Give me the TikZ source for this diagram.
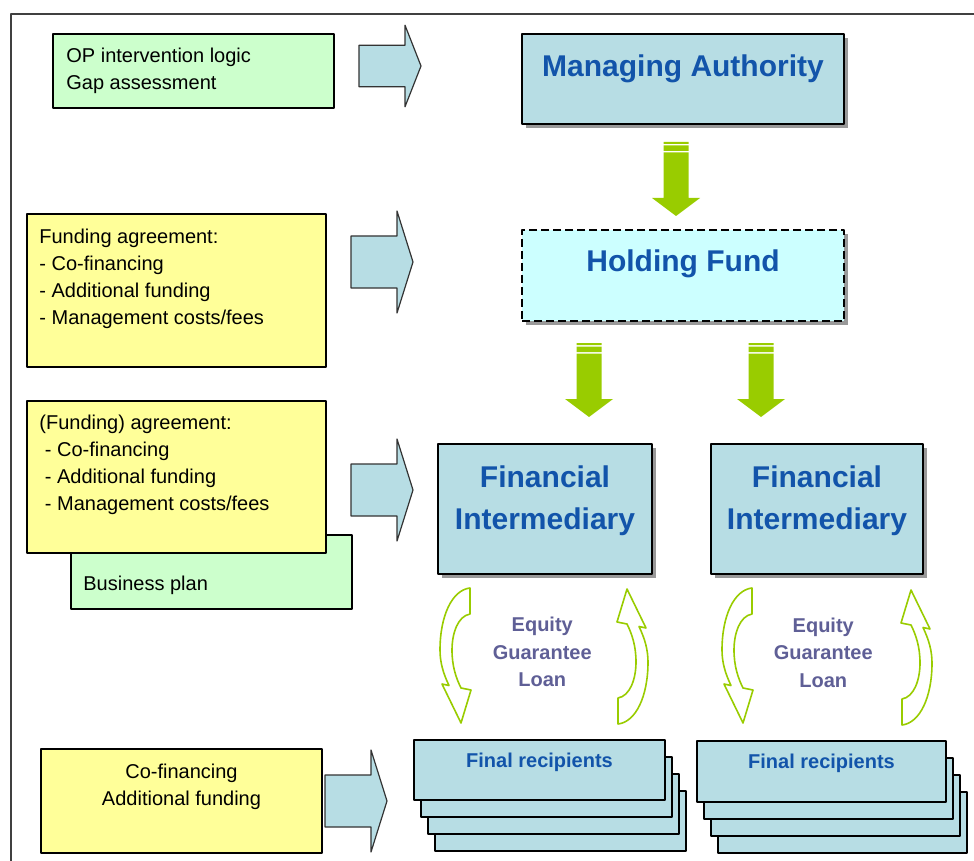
\documentclass[tikz,border=0pt]{standalone}
\usepackage{fontspec}
\setmainfont{Liberation Sans}
\usetikzlibrary{positioning,fit,calc,shadows}
\definecolor{boxblue}{RGB}{183,221,228}
\definecolor{holdcyan}{RGB}{204,255,255}
\definecolor{noteyellow}{RGB}{255,255,153}
\definecolor{notegreen}{RGB}{204,255,204}
\definecolor{titleblue}{RGB}{18,84,170}
\definecolor{flowgreen}{RGB}{153,204,0}
\definecolor{loanpurple}{RGB}{95,95,150}
\begin{document}
\begin{tikzpicture}[x=0.5pt,y=-0.5pt,line join=round]
	\tikzset{
		plainbox/.style={draw=black,line width=1pt,inner sep=0pt,fill=#1},
		shadowed/.style={drop shadow={shadow xshift=2pt,shadow yshift=-2pt,fill=black!50,opacity=.8}},
		mainbox/.style={plainbox=boxblue,shadowed},
		notetext/.style={font=\fontsize{10}{13.5}\selectfont,inner sep=0pt,align=left},
		bigtext/.style={font=\fontsize{15}{21}\selectfont\bfseries,text=titleblue,inner sep=0pt,align=center},
		smalltitle/.style={font=\fontsize{10}{13}\selectfont\bfseries,text=titleblue,inner sep=0pt},
		loantext/.style={font=\fontsize{10}{13.75}\selectfont\bfseries,text=loanpurple,inner sep=0pt,align=center},
		blockarrow/.pic={\draw[fill=boxblue,draw=black!80,line width=0.6pt] (0,-26) -- (46,-26) -- (46,-51) -- (62,0) -- (46,51) -- (46,26) -- (0,26) -- cycle;},
		greenarrow/.pic={\fill[flowgreen] (-12.5,0) rectangle (12.5,2) (-12.5,3.5) rectangle (12.5,9)
			(-12.5,10.5) -- (12.5,10.5) -- (12.5,56) -- (24,56) -- (0,74) -- (-24,56) -- (-12.5,56) -- cycle;},
		swirl/.pic={\draw[flowgreen,fill=white,line width=0.8pt] (30,0) -- (30,26) .. controls (18,28) and (12,45) .. (12,62)
			.. controls (12,78) and (16,90) .. (21,100) -- (31,102) -- (21,135) -- (2,96) -- (9,97.5)
			.. controls (3,85) and (0,74) .. (0,62) .. controls (0,28) and (12,2) .. (30,0) -- cycle;}
	}
	\useasboundingbox (0,0) rectangle (974,861);
	\draw[black!75,line width=1pt] (974,14) -- (11,14) -- (11,861);

	\node[plainbox=notegreen,fit={(53,34) (334,108)}] (op) {};
	\node[plainbox=noteyellow,fit={(27,214) (326,367)}] (fund) {};
	\node[plainbox=notegreen,fit={(71,535) (352,609)}] (bplan) {};
	\node[plainbox=noteyellow,fit={(27,401) (326,553)}] (fund2) {};
	\node[plainbox=noteyellow,fit={(41,749) (322,853)}] (cofin) {};
	\node[notetext,right=7pt of op.west] {OP intervention logic\\Gap assessment};
	\node[notetext,below right=8pt and 6.5pt of fund.north west] {Funding agreement:\\- Co-financing\\- Additional funding\\- Management costs/fees};
	\node[notetext,below right=7.5pt and 6.5pt of fund2.north west] {(Funding) agreement:\\~- Co-financing\\~- Additional funding\\~- Management costs/fees};
	\node[notetext,anchor=west] at ([xshift=6.5pt,yshift=-6.5pt]bplan.west) {Business plan};
	\node[notetext,align=center,below=8pt of cofin.north] {Co-financing\\Additional funding};

	\node[mainbox,fit={(522,34) (844,124)}] (ma) {};
	\node[plainbox=holdcyan,dash pattern=on 4pt off 2pt,shadowed,fit={(522,230) (844,321)}] (hf) {};
	\node[mainbox,fit={(438,444) (652,574)}] (fi1) {};
	\node[mainbox,fit={(711,444) (923,574)}] (fi2) {};
	\foreach \k in {3,2,1}{
		\draw[fill=boxblue,line width=1pt] (414+7*\k,740+17*\k) rectangle ++(251,60);
		\draw[fill=boxblue,line width=1pt] (697+7*\k,741+17*\k) rectangle ++(249,61);
	}
	\node[plainbox=boxblue,fit={(414,740) (665,800)}] (fr1) {};
	\node[plainbox=boxblue,fit={(697,741) (946,802)}] (fr2) {};

	\node[bigtext,below=10.5pt of ma.north] {Managing Authority};
	\node[bigtext,below=10pt of hf.north] {Holding Fund};
	\node[bigtext,below=11pt of fi1.north] {Financial\\Intermediary};
	\node[bigtext,below=11pt of fi2.north] {Financial\\Intermediary};
	\node[smalltitle,below=7pt of fr1.north] {Final recipients};
	\node[smalltitle,below=7pt of fr2.north] {Final recipients};
	\node[loantext] at ($(fi1.south)!0.5!(fr1.north)+(0,-5)$) {Equity\\Guarantee\\Loan};
	\node[loantext] at ($(fi2.south)!0.5!(fr2.north)+(4,-5)$) {Equity\\Guarantee\\Loan};

	\pic[yscale=0.8] at (359,66) {blockarrow};
	\foreach \x/\y in {351/262,351/490,325/801}{
		\pic at (\x,\y) {blockarrow};
	}
	\foreach \x/\y in {676/142,589/343,761/343}{
		\pic at (\x,\y) {greenarrow};
	}
	\pic at (440,588) {swirl};
	\pic[rotate=180] at (648,724) {swirl};
	\pic at (722,588) {swirl};
	\pic[rotate=180] at (932,725) {swirl};
\end{tikzpicture}
\end{document}
